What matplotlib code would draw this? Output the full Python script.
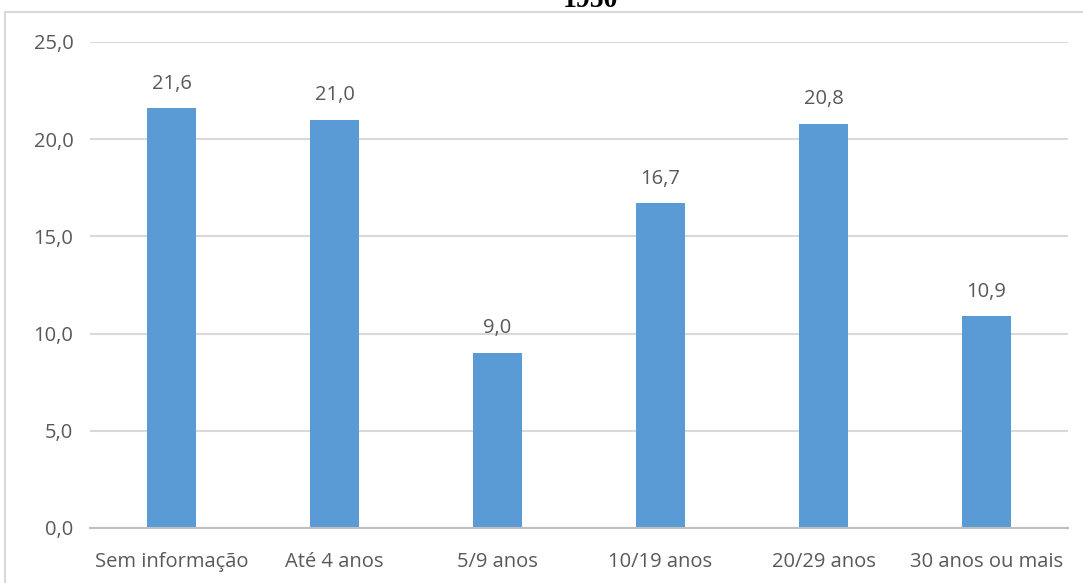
import matplotlib
matplotlib.use("Agg")
import matplotlib.pyplot as plt
from matplotlib.lines import Line2D

categories = ["Sem informação", "Até 4 anos", "5/9 anos", "10/19 anos", "20/29 anos", "30 anos ou mais"]
values = [21.6, 21.0, 9.0, 16.7, 20.8, 10.9]
yticks = [0, 5, 10, 15, 20, 25]
title = "1950"

W, H = 1083, 583
fig = plt.figure(figsize=(W / 100, H / 100), dpi=100)
ax = fig.add_axes([90 / W, 55 / H, 978 / W, 486 / H])

text_color = "#595959"
font = "Open Sans"
num_size = 14.5
cat_size = 14.5

x = range(len(categories))
ax.bar(x, values, width=0.30, color="#5b9bd5", zorder=3)
for xi, v in zip(x, values):
    ax.text(xi, v + 0.75, f"{v:.1f}".replace(".", ","), ha="center", va="bottom",
            fontsize=num_size, color=text_color, family=font)

ax.set_xlim(-0.5, len(categories) - 0.5)
ax.set_ylim(0, 25)
ax.set_yticks(yticks)
ax.set_yticklabels([f"{t:.1f}".replace(".", ",") for t in yticks],
                   fontsize=num_size, color=text_color, family=font)
ax.set_xticks(list(x))
ax.set_xticklabels(categories, fontsize=cat_size, color=text_color, family=font)
ax.tick_params(length=0)
ax.tick_params(axis="y", pad=12)
ax.tick_params(axis="x", pad=17)
ax.grid(axis="y", color="#d9d9d9", linewidth=1.5, zorder=0)
for s in ["top", "right", "left"]:
    ax.spines[s].set_visible(False)
ax.spines["bottom"].set_color("#bfbfbf")
ax.spines["bottom"].set_linewidth(1.5)
ax.spines["bottom"].set_zorder(4)

# chart frame
fig.add_artist(Line2D([5 / W, 1.0], [1 - 12 / H, 1 - 12 / H], color="#d9d9d9", linewidth=1.5))
fig.add_artist(Line2D([5 / W, 5 / W], [0, 1 - 12 / H], color="#d9d9d9", linewidth=1.5))

fig.text(590 / W, 1 - 7 / H, title, ha="center", va="baseline", fontsize=20,
         fontweight="bold", family="Liberation Serif", color="black")

fig.savefig("out.png", dpi=100, facecolor="white")
